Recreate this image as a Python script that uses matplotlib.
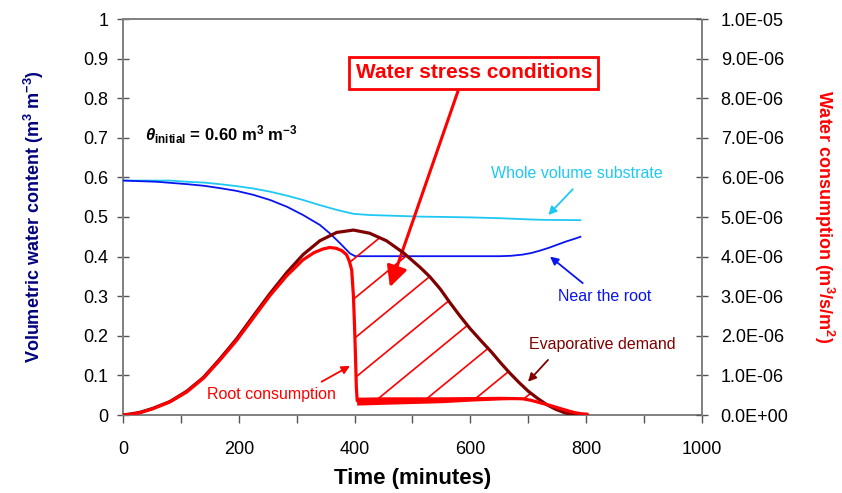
import numpy as np
import matplotlib
matplotlib.use("Agg")
import matplotlib.pyplot as plt
from matplotlib.ticker import MultipleLocator, FuncFormatter
from matplotlib.collections import LineCollection

plt.rcParams['font.family'] = ['Liberation Sans', 'DejaVu Sans']
plt.rcParams['mathtext.fontset'] = 'custom'
plt.rcParams['mathtext.rm'] = 'Liberation Sans'
plt.rcParams['mathtext.it'] = 'Liberation Sans:italic'
plt.rcParams['mathtext.bf'] = 'Liberation Sans:bold'
plt.rcParams['mathtext.bfit'] = 'Liberation Sans:italic:bold'

# ---------------- data ----------------
# Whole volume substrate (m3 m-3)
t_whole = [0, 81, 110, 139, 167, 196, 225, 254, 283, 311, 340, 369, 398, 426, 513, 560,
           600, 650, 700, 720, 790]
v_whole = [0.592, 0.592, 0.589, 0.587, 0.583, 0.578, 0.572, 0.564, 0.554, 0.543, 0.530,
           0.518, 0.508, 0.505, 0.501, 0.500, 0.499, 0.497, 0.494, 0.493, 0.492]

# Near the root (m3 m-3)
t_root_zone = [0, 58, 110, 139, 167, 196, 225, 254, 283, 311, 340, 357, 374, 392, 401,
               450, 550, 650, 670, 690, 705, 720, 735, 750, 765, 780, 790]
v_root_zone = [0.592, 0.589, 0.583, 0.579, 0.573, 0.566, 0.556, 0.543, 0.526, 0.505, 0.480,
               0.459, 0.435, 0.408, 0.401, 0.401, 0.401, 0.401, 0.402, 0.405, 0.409, 0.415,
               0.422, 0.430, 0.438, 0.445, 0.450]

# Evaporative demand (m3/s/m2)
t_evap = [0, 15, 30, 52, 81, 110, 139, 167, 196, 225, 254, 283, 311, 340, 369, 398, 426,
          455, 484, 513, 530, 548, 565, 582, 599, 618, 637, 652, 668, 684, 700, 716, 732,
          748, 764, 778, 790]
q_evap = [0, 0.03e-6, 0.07e-6, 0.17e-6, 0.34e-6, 0.60e-6, 0.95e-6, 1.41e-6, 1.92e-6,
          2.50e-6, 3.07e-6, 3.60e-6, 4.05e-6, 4.40e-6, 4.61e-6, 4.67e-6, 4.59e-6, 4.40e-6,
          4.10e-6, 3.73e-6, 3.49e-6, 3.18e-6, 2.83e-6, 2.50e-6, 2.19e-6, 1.88e-6, 1.58e-6,
          1.32e-6, 1.06e-6, 0.82e-6, 0.60e-6, 0.42e-6, 0.26e-6, 0.14e-6, 0.05e-6, 0.01e-6,
          0.0]

# Root consumption (m3/s/m2)
t_cons = [0, 15, 30, 52, 81, 110, 139, 167, 196, 225, 254, 283, 311, 330, 345, 357, 368,
          378, 386, 391, 395, 398, 400, 401.5, 403, 404.5, 420, 450, 500, 550, 600, 650,
          690, 705, 720, 738, 756, 770, 780, 792, 802]
q_cons = [0, 0.02e-6, 0.06e-6, 0.16e-6, 0.33e-6, 0.58e-6, 0.93e-6, 1.38e-6, 1.88e-6,
          2.45e-6, 3.02e-6, 3.52e-6, 3.92e-6, 4.10e-6, 4.19e-6, 4.23e-6, 4.21e-6, 4.15e-6,
          4.05e-6, 3.88e-6, 3.66e-6, 3.00e-6, 2.20e-6, 1.50e-6, 0.70e-6, 0.36e-6, 0.36e-6,
          0.37e-6, 0.38e-6, 0.39e-6, 0.41e-6, 0.42e-6, 0.41e-6, 0.37e-6, 0.31e-6, 0.24e-6,
          0.16e-6, 0.10e-6, 0.06e-6, 0.03e-6, 0.02e-6]

# Thick band of root consumption after the stress onset
t_band = [403.6, 450, 500, 550, 600, 650, 690]
q_band_lo = [0.25e-6, 0.27e-6, 0.29e-6, 0.31e-6, 0.35e-6, 0.38e-6, 0.40e-6]
q_band_hi = [0.45e-6, 0.46e-6, 0.46e-6, 0.46e-6, 0.46e-6, 0.45e-6, 0.43e-6]

x_ticks = [0, 200, 400, 600, 800, 1000]

# ---------------- figure ----------------
W, H = 842, 493
fig = plt.figure(figsize=(W / 100, H / 100), dpi=100)
ax = fig.add_axes([123 / W, (H - 415) / H, 579 / W, 396 / H])
ax2 = ax.twinx()

C_CYAN = '#1EC8F5'
C_BLUE = '#0A14F0'
C_DRED = '#800000'
C_RED = '#FF0000'
C_NAVY = '#000080'

ax.set_xlim(0, 1000)
ax.set_ylim(0, 1)
ax2.set_ylim(0, 1e-5)

ax.plot(t_whole, v_whole, color=C_CYAN, lw=1.3, zorder=3)
ax.plot(t_root_zone, v_root_zone, color=C_BLUE, lw=1.3, zorder=3)

# hatched area between consumption and demand
t_c = np.array(t_cons); q_c = np.array(q_cons)
t_e = np.array(t_evap); q_e = np.array(q_evap)
mc = t_c >= 386
me = t_e >= 386
poly_t = np.concatenate([[386], t_c[mc], t_e[me][::-1], [386]])
poly_q = np.concatenate([[4.05e-6], q_c[mc], q_e[me][::-1], [4.64e-6]])
patch = ax2.fill(poly_t, poly_q, facecolor='none', edgecolor='none')[0]

slope = 0.0012e-5   # per minute, in consumption units
spacing = 84.0
t0, q0 = 448.0, 0.05e-5
segs = []
for k in range(-8, 8):
    ta = t0 + k * spacing
    tA, tB = ta - 600, ta + 600
    segs.append([(tA, q0 + slope * (tA - ta)), (tB, q0 + slope * (tB - ta))])
lc = LineCollection(segs, colors=C_RED, linewidths=1.2, zorder=2)
ax2.add_collection(lc)
lc.set_clip_path(patch)

ax2.plot(t_evap, q_evap, color=C_DRED, lw=2.3, zorder=4, solid_capstyle='round',
         solid_joinstyle='round')
ax2.fill_between(t_band, q_band_lo, q_band_hi, color=C_RED, lw=0, zorder=5)
ax2.plot(t_cons, q_cons, color=C_RED, lw=2.3, zorder=5, solid_capstyle='round',
         solid_joinstyle='round')

# ---------------- axes styling ----------------
for a in (ax, ax2):
    for s in a.spines.values():
        s.set_color('#808080')
        s.set_linestyle((0, (1, 1)))
        s.set_linewidth(1.4)
ax.spines['right'].set_visible(False)
ax2.spines['left'].set_visible(False)
ax2.spines['top'].set_visible(False)
ax2.spines['bottom'].set_visible(False)

ax.xaxis.set_major_locator(MultipleLocator(200))
ax.xaxis.set_minor_locator(MultipleLocator(100))
ax.set_xticks(x_ticks)
ax.yaxis.set_major_locator(MultipleLocator(0.1))
ax.yaxis.set_major_formatter(FuncFormatter(lambda v, p: f"{v:.1f}".rstrip('0').rstrip('.') if v in (0, 1) else f"{v:.1f}"))
ax2.yaxis.set_major_locator(MultipleLocator(1e-6))
ax2.yaxis.set_major_formatter(FuncFormatter(lambda v, p: f"{v:.1E}"))

ax.tick_params(axis='x', which='both', direction='out', length=6, width=1, color='#555555',
               labelsize=13, pad=13)
ax.tick_params(axis='y', which='both', direction='inout', length=9, width=1, color='#555555',
               labelsize=13, pad=6)
ax2.tick_params(axis='y', which='both', direction='inout', length=9, width=1, color='#555555',
                labelsize=13, pad=9)

ax.set_xlabel('Time (minutes)', fontsize=16, fontweight='bold', labelpad=7)
ax.set_ylabel(r'Volumetric water content (m$^{\mathbf{3}}$ m$^{\mathbf{-3}}$)', fontsize=13,
              fontweight='bold', color=C_NAVY, labelpad=27)
ax2.set_ylabel(r'Water consumption (m$^{\mathbf{3}}$/s/m$^{\mathbf{2}}$)', fontsize=13,
               fontweight='bold', color=C_RED, rotation=270, labelpad=34)

# ---------------- annotations ----------------
ax.text(606, 0.864, 'Water stress conditions', fontsize=15, fontweight='bold', color=C_RED,
        ha='center', va='center', zorder=10,
        bbox=dict(boxstyle='square,pad=0.3', facecolor='white', edgecolor=C_RED, lw=2))
ax.annotate('', xy=(461, 0.323), xytext=(578.6, 0.818),
            arrowprops=dict(arrowstyle='-|>,head_length=0.9,head_width=0.45', color=C_RED,
                            lw=2.2, shrinkA=0, shrinkB=0, mutation_scale=14), zorder=9)

ax.text(38, 0.707,
        r'$\mathbfit{\theta}_{\mathbf{initial}}$ = 0.60 m$^{\mathbf{3}}$ m$^{\mathbf{-3}}$',
        fontsize=12, fontweight='bold', ha='left', va='center')

ax.text(257, 0.053, 'Root consumption', fontsize=11.5, color=C_RED, ha='center', va='center')
ax.annotate('', xy=(392, 0.124), xytext=(343, 0.084),
            arrowprops=dict(arrowstyle='-|>', color=C_RED, lw=1.3, shrinkA=0, shrinkB=0,
                            mutation_scale=12))

ax.text(827, 0.179, 'Evaporative demand', fontsize=11.5, color=C_DRED, ha='center', va='center')
ax.annotate('', xy=(699.5, 0.084), xytext=(734, 0.139),
            arrowprops=dict(arrowstyle='-|>', color=C_DRED, lw=1.3, shrinkA=0, shrinkB=0,
                            mutation_scale=12))

ax.text(832, 0.299, 'Near the root', fontsize=11.5, color=C_BLUE, ha='center', va='center')
ax.annotate('', xy=(737.5, 0.40), xytext=(794, 0.333),
            arrowprops=dict(arrowstyle='-|>', color=C_BLUE, lw=1.3, shrinkA=0, shrinkB=0,
                            mutation_scale=12))

ax.text(783.6, 0.61, 'Whole volume substrate', fontsize=11.5, color=C_CYAN, ha='center',
        va='center')
ax.annotate('', xy=(734.5, 0.505), xytext=(776.7, 0.57),
            arrowprops=dict(arrowstyle='-|>', color=C_CYAN, lw=1.3, shrinkA=0, shrinkB=0,
                            mutation_scale=12))

fig.savefig('out.png', dpi=100, facecolor='white')
